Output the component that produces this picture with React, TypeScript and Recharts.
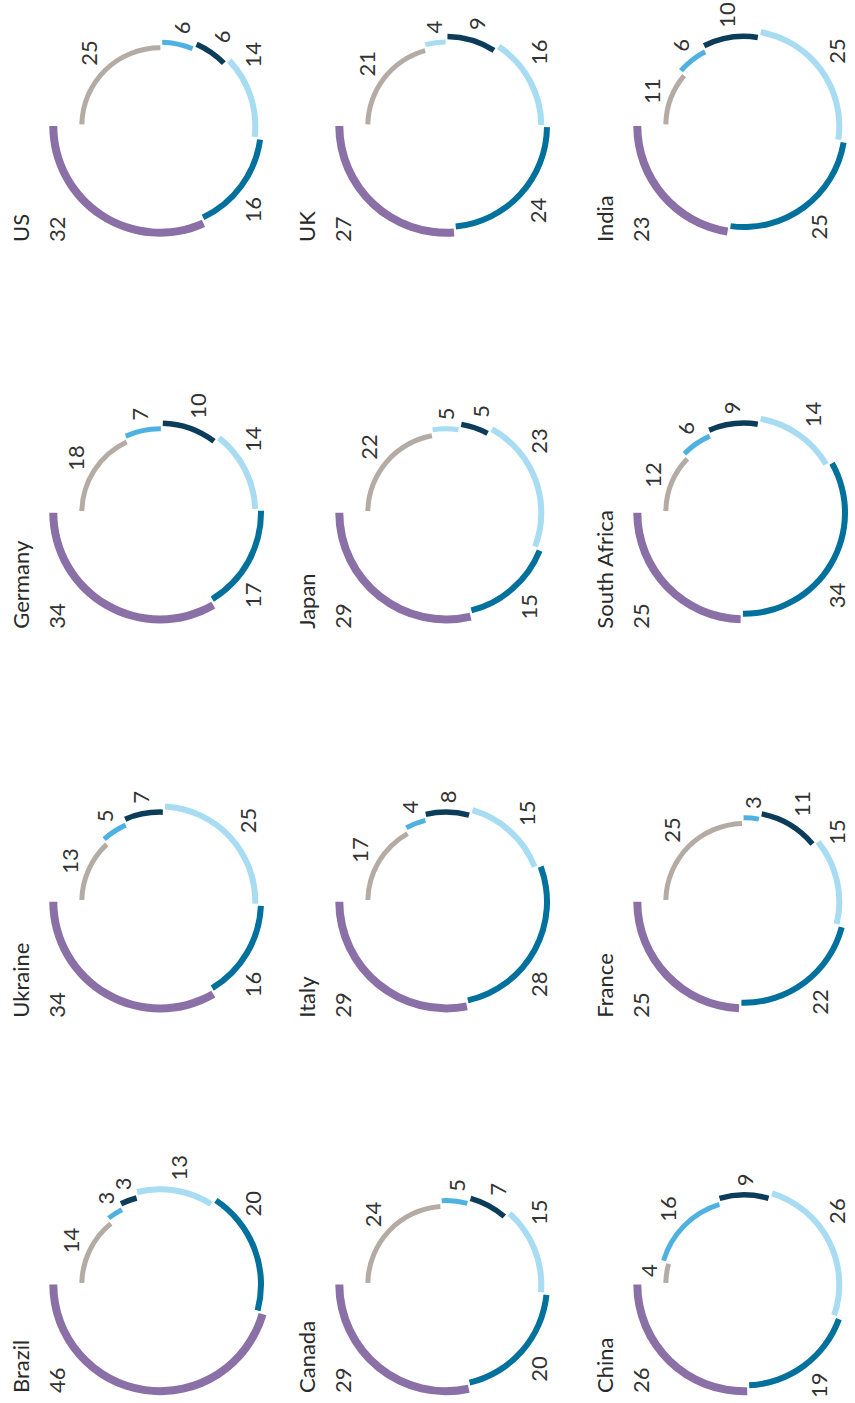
import React from 'react';
import { PieChart, Pie, Cell } from 'recharts';

// Panels, laid out row by row (four per row, three rows)
const countries = [
  'Brazil', 'Ukraine', 'Germany', 'US',
  'Canada', 'Italy', 'Japan', 'UK',
  'China', 'France', 'South Africa', 'India',
];

// Shares per panel, one array per ring segment (outermost first)
const series1 = [46, 34, 34, 32, 29, 29, 29, 27, 26, 25, 25, 23];
const series2 = [20, 16, 17, 16, 20, 28, 15, 24, 19, 22, 34, 25];
const series3 = [13, 25, 14, 14, 15, 15, 23, 16, 26, 15, 14, 25];
const series4 = [3, 7, 10, 6, 7, 8, 5, 9, 9, 11, 9, 10];
const series5 = [3, 5, 7, 6, 5, 4, 5, 4, 16, 3, 6, 6];
const series6 = [14, 13, 18, 25, 24, 17, 22, 21, 4, 25, 12, 11];

const seriesList = [series1, series2, series3, series4, series5, series6];
const seriesNames = ['s1', 's2', 's3', 's4', 's5', 's6'];

// Styling
const SERIES_COLORS = ['#8b6fa7', '#00709c', '#a7dcf3', '#0b3c59', '#4eb1e2', '#b4aba4'];
const PALE_FIFTH = new Set(['Japan', 'UK']);
const RING_WIDTH = [8, 6, 6, 5.5, 5, 5];
const ringMid = (i: number) => 106.7 - 5.7 * i;

// Canvas (drawn landscape, then turned a quarter turn)
const W = 1403;
const H = 855;
const COL_X = [118.5, 501.3, 890.3, 1277];
const ROW_Y = [160, 446, 744];

const FONT = 'Lato, "Open Sans", sans-serif';
const TEXT_COLOR = '#333333';
const NAME_COLOR = '#2a2a2a';
const FONT_SIZE = 22;
const DIGIT_W = 12.8;
const DIGIT_H = 17;
const LABEL_GAP = 6;
const MAX_DROP = 92;
const RAD = Math.PI / 180;

function segmentLabel(props: any, seg: number, country: string) {
  if (props.index !== seg) return null;
  const cx = props.cx as number;
  const cy = props.cy as number;
  const text = String(props.value);
  if (seg === 0) {
    const nx = Math.max(10, cx - 116);
    return (
      <g>
        <text x={nx} y={cy - 131} fontFamily={FONT} fontSize={FONT_SIZE} fill={NAME_COLOR}>
          {country}
        </text>
        <text x={nx} y={cy - 95} fontFamily={FONT} fontSize={FONT_SIZE} fill={TEXT_COLOR}>
          {text}
        </text>
      </g>
    );
  }
  const dx = Math.cos(-props.midAngle * RAD);
  const dy = Math.sin(-props.midAngle * RAD);
  const w = text.length * DIGIT_W;
  const support = Math.abs(dx) * (w / 2) + Math.abs(dy) * (DIGIT_H / 2);
  const d = ringMid(seg) + RING_WIDTH[seg] / 2 + LABEL_GAP + support;
  let ox = d * dx;
  let oy = d * dy;
  if (oy > MAX_DROP) {
    oy = MAX_DROP;
    ox = Math.sign(dx || 1) * Math.sqrt(d * d - MAX_DROP * MAX_DROP);
  }
  return (
    <text
      x={cx + ox}
      y={cy + oy + DIGIT_H / 2}
      textAnchor="middle"
      fontFamily={FONT}
      fontSize={FONT_SIZE}
      fill={TEXT_COLOR}
    >
      {text}
    </text>
  );
}

export default function App() {
  return (
    <div style={{ position: 'absolute', left: 0, top: 0, width: H, height: W, overflow: 'hidden', background: '#fff' }}>
      <div
        style={{
          width: W,
          height: H,
          transformOrigin: '0 0',
          transform: `translate(0px, ${W}px) rotate(-90deg)`,
        }}
      >
        <PieChart width={W} height={H} margin={{ top: 0, right: 0, bottom: 0, left: 0 }}>
          {countries.map((country, k) => {
            const cx = COL_X[k % 4];
            const cy = ROW_Y[Math.floor(k / 4)];
            const data = seriesList.map((s, i) => ({ name: seriesNames[i], value: s[k] }));
            return seriesList.map((_, seg) => {
              const mid = ringMid(seg);
              const half = RING_WIDTH[seg] / 2;
              const color =
                seg === 4 && PALE_FIFTH.has(country) ? SERIES_COLORS[2] : SERIES_COLORS[seg];
              return (
                <Pie
                  key={`${country}-${seg}`}
                  data={data}
                  dataKey="value"
                  nameKey="name"
                  cx={cx}
                  cy={cy}
                  startAngle={90}
                  endAngle={450}
                  innerRadius={mid - half}
                  outerRadius={mid + half}
                  paddingAngle={1.2}
                  stroke="none"
                  isAnimationActive={false}
                  labelLine={false}
                  label={(p: any) => segmentLabel(p, seg, country)}
                >
                  {data.map((_d, j) => (
                    <Cell key={j} fill={j === seg ? color : 'transparent'} />
                  ))}
                </Pie>
              );
            });
          })}
        </PieChart>
      </div>
    </div>
  );
}
